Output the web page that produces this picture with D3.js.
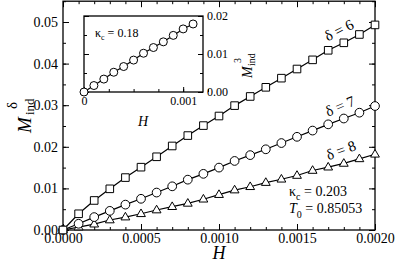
<!DOCTYPE html>
<html>
<head>
<meta charset="utf-8">
<script src="https://cdn.jsdelivr.net/npm/d3@7"></script>
<style>
body { margin: 0; background: #fff; }
</style>
</head>
<body>
<svg width="395" height="263"></svg>
<script>
// main panel data
const fieldH = [0, 0.0001, 0.0002, 0.0003, 0.0004, 0.0005, 0.0006, 0.0007, 0.0008, 0.0009, 0.0010,
    0.0011, 0.0012, 0.0013, 0.0014, 0.0015, 0.0016, 0.0017, 0.0018, 0.0019, 0.0020];
const delta6 = [0, 0.0039, 0.0071, 0.0099, 0.0126, 0.0151, 0.0176, 0.0202, 0.0227, 0.0251, 0.0274,
    0.0299, 0.0321, 0.0343, 0.0365, 0.0387, 0.0409, 0.0432, 0.0450, 0.0470, 0.0493];
const delta7 = [0, 0.0015, 0.0031, 0.0046, 0.0061, 0.0075, 0.0090, 0.0105, 0.0121, 0.0135, 0.0150,
    0.0166, 0.0180, 0.0194, 0.0209, 0.0224, 0.0239, 0.0254, 0.0268, 0.0282, 0.0298];
const delta8 = [0, 0.0007, 0.0014, 0.0024, 0.0031, 0.0039, 0.0048, 0.0056, 0.0064, 0.0074, 0.0085,
    0.0096, 0.0104, 0.0114, 0.0122, 0.0131, 0.0143, 0.0151, 0.0160, 0.0171, 0.0182];
const xTicks = [0, 0.0005, 0.0010, 0.0015, 0.0020];
const yTicks = [0, 0.01, 0.02, 0.03, 0.04, 0.05];

// inset data (kappa_c = 0.18)
const insetH = [0, 0.0001, 0.0002, 0.0003, 0.0004, 0.0005, 0.0006, 0.0007, 0.0008, 0.0009, 0.0010, 0.0011];
const insetM = [0, 0.0017, 0.0034, 0.0052, 0.0067, 0.0084, 0.0102, 0.0117, 0.0132, 0.0149, 0.0166, 0.0179];
const insetXTicks = [0, 0.001];
const insetYTicks = [0, 0.01, 0.02];

const FONT = "Liberation Serif";
const svg = d3.select("svg");

const x = d3.scaleLinear().domain([0, 0.002]).range([63, 375]);
const y = d3.scaleLinear().domain([0, 0.055]).range([230, 1.2]);

const ix = d3.scaleLinear().domain([0, 0.0012]).range([84, 203]);
const iy = d3.scaleLinear().domain([0, 0.02]).range([92, 16]);

function range(a, b, step) {
    return d3.range(Math.round((b - a) / step) + 1).map(i => a + i * step);
}

// inward ticks on the sides of a frame
function frame(g, sx, sy, opt) {
    const [x0, x1] = sx.range();
    const [y0, y1] = sy.range();

    g.append("g").attr("transform", `translate(0,${y0})`)
        .call(d3.axisBottom(sx).tickValues(opt.xMajor).tickSize(-opt.major).tickPadding(opt.xPad).tickFormat(opt.xFormat));
    g.append("g").attr("transform", `translate(0,${y0})`)
        .call(d3.axisBottom(sx).tickValues(opt.xMinor).tickSize(-opt.minor).tickFormat(""));
    if (opt.top) {
        g.append("g").attr("transform", `translate(0,${y1})`)
            .call(d3.axisTop(sx).tickValues(opt.xMajor).tickSize(-opt.major).tickFormat(""));
        g.append("g").attr("transform", `translate(0,${y1})`)
            .call(d3.axisTop(sx).tickValues(opt.xMinor).tickSize(-opt.minor).tickFormat(""));
    }
    g.append("g").attr("transform", `translate(${x0},0)`)
        .call(d3.axisLeft(sy).tickValues(opt.yMajor).tickSize(-opt.major).tickPadding(opt.yPad)
            .tickFormat(opt.yLabelsLeft ? opt.yFormat : ""));
    g.append("g").attr("transform", `translate(${x0},0)`)
        .call(d3.axisLeft(sy).tickValues(opt.yMinor).tickSize(-opt.minor).tickFormat(""));
    g.append("g").attr("transform", `translate(${x1},0)`)
        .call(d3.axisRight(sy).tickValues(opt.yMajor).tickSize(-opt.major).tickPadding(opt.yPad)
            .tickFormat(opt.yLabelsLeft ? "" : opt.yFormat));
    g.append("g").attr("transform", `translate(${x1},0)`)
        .call(d3.axisRight(sy).tickValues(opt.yMinor).tickSize(-opt.minor).tickFormat(""));

    g.selectAll(".domain").remove();
    g.selectAll("g").attr("font-family", FONT);
    g.selectAll(".tick line").attr("stroke", "#000").attr("stroke-width", 1);
    g.selectAll(".tick text").attr("font-size", opt.fontSize).attr("fill", "#000");

    g.append("rect")
        .attr("x", x0).attr("y", y1)
        .attr("width", x1 - x0).attr("height", y0 - y1)
        .attr("fill", "none").attr("stroke", "#000").attr("stroke-width", 1.3);
}

// ---- main panel
const main = svg.append("g");
frame(main, x, y, {
    xMajor: xTicks, xMinor: range(0, 0.002, 0.0001),
    yMajor: yTicks, yMinor: range(0, 0.055, 0.005),
    major: 6, minor: 3, xPad: 3, yPad: 5, fontSize: 14, top: true, yLabelsLeft: true,
    xFormat: d3.format(".4f"), yFormat: d3.format(".2f")
});

const line = d3.line().x(d => x(d[0])).y(d => y(d[1]));

function series(vals, shape) {
    const pts = fieldH.map((h, i) => [h, vals[i]]);
    main.append("path").datum(pts).attr("d", line)
        .attr("fill", "none").attr("stroke", "#000").attr("stroke-width", 1.2);
    main.append("g").selectAll("path").data(pts).enter().append("path")
        .attr("transform", d => `translate(${x(d[0])},${y(d[1])})`)
        .attr("d", shape)
        .attr("fill", "#fff").attr("stroke", "#000").attr("stroke-width", 1);
}
series(delta8, "M0,-4.8L4.4,2.8L-4.4,2.8Z");
series(delta7, d3.symbol(d3.symbolCircle, 60)());
series(delta6, "M-3.8,-3.8H3.8V3.8H-3.8Z");

// axis titles
svg.append("text").attr("x", 219).attr("y", 259).attr("text-anchor", "middle")
    .attr("font-size", 18).attr("font-style", "italic").text("H");
const yt = svg.append("g").attr("transform", "translate(31,0) rotate(-90)");
yt.append("text").attr("x", -133).attr("y", 0).attr("font-size", 19).attr("font-style", "italic").text("M");
yt.append("text").attr("x", -115).attr("y", 3).attr("font-size", 13).text("ind");
yt.append("text").attr("x", -109).attr("y", -14).attr("font-size", 15).text("δ");

// curve labels
[["δ = 6", 339, 30, -27], ["δ = 7", 340, 106, -23], ["δ = 8", 341, 150, -20]].forEach(([t, cx, cy, a]) => {
    svg.append("text").attr("transform", `translate(${cx},${cy}) rotate(${a})`)
        .attr("text-anchor", "middle").attr("dy", "0.35em").attr("font-size", 15).text(t);
});

const k1 = svg.append("text").attr("x", 289).attr("y", 196).attr("font-size", 14);
k1.append("tspan").text("κ");
k1.append("tspan").attr("font-size", 10).attr("dy", 4).text("c");
k1.append("tspan").attr("dy", -4).text(" = 0.203");
const t0 = svg.append("text").attr("x", 289).attr("y", 213).attr("font-size", 14);
t0.append("tspan").attr("font-style", "italic").text("T");
t0.append("tspan").attr("font-size", 10).attr("dy", 5).text("0");
t0.append("tspan").attr("dy", -5).text(" = 0.85053");

// ---- inset
const inset = svg.append("g");
inset.append("rect").attr("x", 84).attr("y", 16).attr("width", 119).attr("height", 76).attr("fill", "#fff");
frame(inset, ix, iy, {
    xMajor: insetXTicks, xMinor: range(0, 0.0012, 0.00025),
    yMajor: insetYTicks, yMinor: range(0, 0.02, 0.005),
    major: 5, minor: 3, xPad: 4, yPad: 4, fontSize: 12, top: false, yLabelsLeft: false,
    xFormat: d => d === 0 ? "0" : d3.format(".3f")(d), yFormat: d3.format(".2f")
});
const ipts = insetH.map((h, i) => [h, insetM[i]]);
inset.append("path").datum(ipts)
    .attr("d", d3.line().x(d => ix(d[0])).y(d => iy(d[1])))
    .attr("fill", "none").attr("stroke", "#000").attr("stroke-width", 1.2);
inset.append("g").selectAll("circle").data(ipts).enter().append("circle")
    .attr("cx", d => ix(d[0])).attr("cy", d => iy(d[1])).attr("r", 4)
    .attr("fill", "#fff").attr("stroke", "#000").attr("stroke-width", 1);

const k2 = inset.append("text").attr("x", 95).attr("y", 37).attr("font-size", 12);
k2.append("tspan").text("κ");
k2.append("tspan").attr("font-size", 8).attr("dy", 3).text("c");
k2.append("tspan").attr("dy", -3).text(" = 0.18");

inset.append("text").attr("x", 143).attr("y", 126).attr("text-anchor", "middle")
    .attr("font-size", 14).attr("font-style", "italic").text("H");
const iyt = inset.append("g").attr("transform", "translate(252,0) rotate(-90)");
iyt.append("text").attr("x", -78).attr("y", 0).attr("font-size", 14).attr("font-style", "italic").text("M");
iyt.append("text").attr("x", -66).attr("y", 3).attr("font-size", 10).text("ind");
iyt.append("text").attr("x", -63).attr("y", -11).attr("font-size", 10).text("3");

// serif on every text
svg.selectAll("text").attr("font-family", FONT).attr("fill", "#000");
</script>
</body>
</html>
